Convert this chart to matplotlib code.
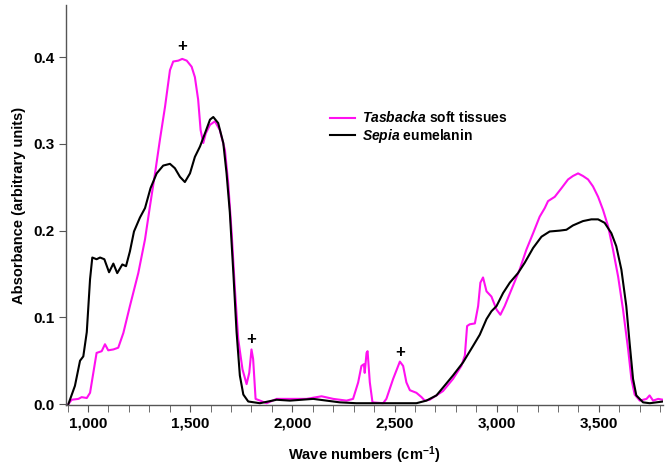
import numpy as np
import matplotlib.pyplot as plt
from matplotlib.ticker import FuncFormatter, MultipleLocator

plt.rcParams['font.family'] = 'Liberation Sans'
plt.rcParams['font.weight'] = 'bold'
plt.rcParams['mathtext.fontset'] = 'custom'
plt.rcParams['mathtext.bf'] = 'Liberation Sans:bold'
plt.rcParams['mathtext.rm'] = 'Liberation Sans:bold'
plt.rcParams['mathtext.it'] = 'Liberation Sans:bold:italic'

# Tasbacka soft tissues (magenta)
tas_x = [904, 920, 953, 969, 994, 1010, 1026, 1042, 1067, 1083, 1099, 1124, 1148, 1173,
         1205, 1246, 1279, 1303, 1328, 1352, 1377, 1401, 1417, 1442, 1461, 1483, 1507,
         1523, 1539, 1551, 1564, 1576, 1597, 1621, 1645, 1670, 1686, 1703, 1719, 1735,
         1756, 1776, 1789, 1800, 1808, 1820, 1874, 1923, 1988, 2069, 2143, 2200, 2265,
         2297, 2322, 2338, 2350, 2354, 2363, 2368, 2379, 2392, 2444, 2460, 2493, 2526,
         2542, 2558, 2575, 2607, 2632, 2648, 2672, 2737, 2786, 2827, 2844, 2855, 2868,
         2893, 2909, 2920, 2933, 2950, 2974, 2999, 3018, 3039, 3072, 3112, 3145, 3178,
         3210, 3235, 3251, 3284, 3317, 3349, 3373, 3398, 3422, 3447, 3471, 3496, 3520,
         3545, 3569, 3594, 3618, 3643, 3659, 3675, 3700, 3733, 3748, 3765, 3790, 3814]
tas_y = [0.0, 0.005, 0.006, 0.008, 0.007, 0.013, 0.036, 0.059, 0.061, 0.069, 0.062, 0.063,
         0.065, 0.082, 0.113, 0.151, 0.190, 0.228, 0.266, 0.305, 0.343, 0.385, 0.395,
         0.396, 0.398, 0.396, 0.389, 0.377, 0.351, 0.316, 0.301, 0.312, 0.322, 0.326,
         0.316, 0.293, 0.255, 0.197, 0.132, 0.075, 0.040, 0.023, 0.036, 0.063, 0.052,
         0.006, 0.001, 0.006, 0.006, 0.006, 0.009, 0.006, 0.004, 0.006, 0.025, 0.044,
         0.046, 0.036, 0.059, 0.061, 0.025, 0.002, 0.001, 0.006, 0.029, 0.049, 0.044,
         0.025, 0.016, 0.013, 0.008, 0.004, 0.005, 0.015, 0.029, 0.044, 0.056, 0.090,
         0.092, 0.093, 0.113, 0.140, 0.146, 0.130, 0.124, 0.109, 0.103, 0.113, 0.132,
         0.155, 0.178, 0.197, 0.216, 0.226, 0.234, 0.239, 0.249, 0.259, 0.263, 0.266,
         0.263, 0.259, 0.251, 0.239, 0.224, 0.205, 0.178, 0.147, 0.109, 0.063, 0.029,
         0.011, 0.004, 0.006, 0.010, 0.004, 0.006, 0.005]

# Sepia eumelanin (black)
sep_x = [904, 936, 961, 977, 994, 1010, 1021, 1042, 1059, 1080, 1103, 1124, 1143, 1168,
         1186, 1205, 1225, 1254, 1279, 1306, 1336, 1368, 1401, 1425, 1450, 1474, 1499,
         1523, 1548, 1572, 1597, 1613, 1637, 1662, 1678, 1694, 1711, 1727, 1743, 1760,
         1784, 1841, 1923, 1988, 2102, 2167, 2232, 2313, 2477, 2607, 2656, 2705, 2737,
         2786, 2835, 2884, 2917, 2950, 2974, 2999, 3031, 3064, 3104, 3137, 3178, 3219,
         3259, 3308, 3341, 3373, 3422, 3463, 3496, 3528, 3561, 3585, 3610, 3634, 3650,
         3667, 3683, 3716, 3749, 3781, 3814]
sep_y = [0.0, 0.021, 0.050, 0.055, 0.083, 0.144, 0.169, 0.167, 0.169, 0.167, 0.152, 0.162,
         0.151, 0.161, 0.159, 0.176, 0.199, 0.215, 0.226, 0.249, 0.266, 0.275, 0.277,
         0.272, 0.262, 0.256, 0.266, 0.285, 0.297, 0.312, 0.328, 0.331, 0.324, 0.301,
         0.266, 0.221, 0.152, 0.083, 0.033, 0.011, 0.003, 0.001, 0.005, 0.004, 0.006,
         0.004, 0.002, 0.001, 0.001, 0.001, 0.004, 0.010, 0.019, 0.033, 0.048, 0.067,
         0.080, 0.098, 0.107, 0.113, 0.128, 0.140, 0.151, 0.163, 0.180, 0.193, 0.199,
         0.200, 0.201, 0.206, 0.211, 0.213, 0.213, 0.209, 0.197, 0.182, 0.155, 0.113,
         0.071, 0.029, 0.010, 0.002, 0.001, 0.002, 0.003]

# peaks marked with "+"
plus_x = [1460, 1800, 2525]
plus_y = [0.412, 0.074, 0.060]

fig = plt.figure(figsize=(6.66, 4.66), dpi=100)
ax = fig.add_axes([0.099, 0.131, 0.896, 0.858])

ax.plot(tas_x, tas_y, color='#ff10f0', lw=1.5, label='$\\mathit{Tasbacka}$ soft tissues')
ax.plot(sep_x, sep_y, color='black', lw=1.5, label='$\\mathit{Sepia}$ eumelanin')

for px, py in zip(plus_x, plus_y):
    ax.text(px, py, '+', ha='center', va='center', fontsize=12, fontweight='bold')

ax.set_xlim(892, 3812)
ax.set_ylim(-0.001, 0.46)
ax.spines['top'].set_visible(False)
ax.spines['right'].set_visible(False)
for s in ('left', 'bottom'):
    ax.spines[s].set_color('#555555')
    ax.spines[s].set_linewidth(1.0)

ax.xaxis.set_major_locator(MultipleLocator(500))
ax.xaxis.set_minor_locator(MultipleLocator(100))
ax.xaxis.set_major_formatter(FuncFormatter(lambda v, p: f'{int(v):,}'))
ax.set_yticks([0.0, 0.1, 0.2, 0.3, 0.4])
ax.yaxis.set_major_formatter(FuncFormatter(lambda v, p: f'{v:.1f}'))
ax.tick_params(which='both', direction='out', color='#555555', labelsize=11)
ax.tick_params(which='major', length=5)
ax.tick_params(which='minor', length=5)

ax.set_xlabel('Wave numbers (cm$^{\\mathbf{-1}}$)', fontsize=10.5, fontweight='bold', labelpad=10)
ax.set_ylabel('Absorbance (arbitrary units)', fontsize=10.5, fontweight='bold', labelpad=5)

ax.legend(loc='upper left', bbox_to_anchor=(0.422, 0.768), frameon=False, fontsize=10,
          handlelength=1.8, handletextpad=0.5, labelspacing=0.1)

fig.savefig('out.png', dpi=100)
